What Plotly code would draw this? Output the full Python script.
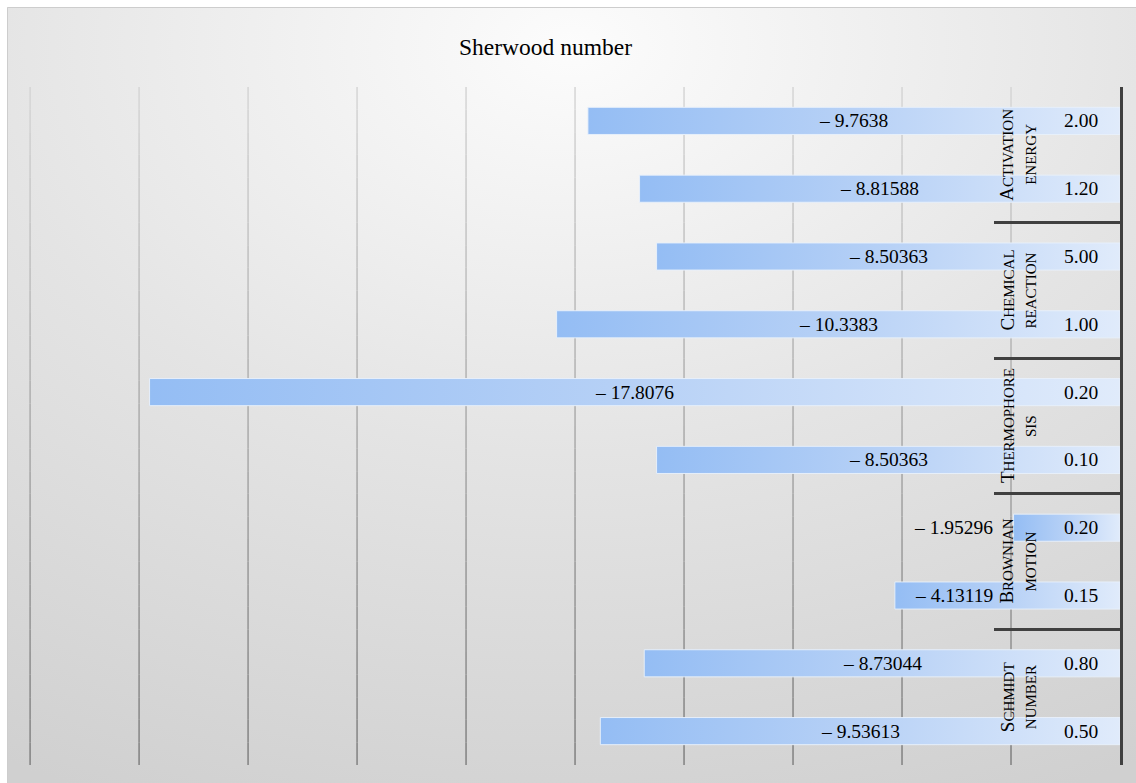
import base64
import plotly.graph_objects as go

# Sherwood number for each parameter level (top to bottom)
groups = [("Activation", "Energy"), ("Chemical", "Reaction"), ("Thermophore", "sis"),
          ("Brownian", "Motion"), ("Schmidt", "Number")]
levels = ["2.00", "1.20", "5.00", "1.00", "0.20", "0.10", "0.20", "0.15", "0.80", "0.50"]
values = [-9.7638, -8.81588, -8.50363, -10.3383, -17.8076, -8.50363,
          -1.95296, -4.13119, -8.73044, -9.53613]
title_text = "Sherwood number"
grid_ticks = list(range(-20, 0, 2))

# canvas / plot-area geometry in pixels
W, H = 1136, 783
ML, MR, MT, MB = 29, 16, 87, 18
PW, PH = W - ML - MR, H - MT - MB


def paper_x(px):
    return (px - ML) / PW


def paper_y(py):
    return (H - MB - py) / PH


SERIF = "Liberation Serif, Times New Roman, serif"
BAR_HALF = 0.2
X_MIN, X_MAX = -20.02, 0
LABEL_LIMIT = -2.3  # data labels stay left of the category-label column

fig = go.Figure()

# bars with a horizontal gradient fill
for i, v in enumerate(values):
    fig.add_trace(go.Scatter(
        x=[v, 0, 0, v, v],
        y=[i - BAR_HALF, i - BAR_HALF, i + BAR_HALF, i + BAR_HALF, i - BAR_HALF],
        mode="lines", fill="toself",
        fillgradient=dict(type="horizontal",
                          colorscale=[[0, "#94bdf4"], [0.5, "#b7d1f6"], [1, "#e0ebfb"]]),
        line=dict(color="rgba(232,240,251,0.95)", width=1),
        hoverinfo="skip", showlegend=False,
    ))

annotations = []

# value labels on the bars
for i, v in enumerate(values):
    txt = "\u2013 " + f"{abs(v):g}"
    centre = v / 2
    inside = centre <= LABEL_LIMIT - 0.75
    annotations.append(dict(x=centre if inside else LABEL_LIMIT, y=i, xref="x", yref="y",
                            text=txt, xanchor="center" if inside else "right",
                            yanchor="middle", showarrow=False,
                            font=dict(family=SERIF, size=19.5, color="#000000")))

# inner category labels (parameter values)
for i, lab in enumerate(levels):
    annotations.append(dict(x=paper_x(1081), y=i, xref="paper", yref="y", text=lab,
                            xanchor="center", yanchor="middle", showarrow=False,
                            font=dict(family=SERIF, size=19.5, color="#000000")))


def small_caps(word, big_first):
    if big_first:
        return f"<span style='font-size:19px'>{word[0].upper()}</span>{word[1:].upper()}"
    return word.upper()


# outer category labels (parameter names), rotated
for g, (line1, line2) in enumerate(groups):
    yc = 2 * g + 0.5
    annotations.append(dict(x=paper_x(1007), y=yc, xref="paper", yref="y",
                            text=small_caps(line1, True), textangle=-90,
                            xanchor="center", yanchor="middle", showarrow=False,
                            font=dict(family=SERIF, size=15, color="#000000")))
    annotations.append(dict(x=paper_x(1031), y=yc, xref="paper", yref="y",
                            text=small_caps(line2, False), textangle=-90,
                            xanchor="center", yanchor="middle", showarrow=False,
                            font=dict(family=SERIF, size=15, color="#000000")))

# chart title
annotations.append(dict(x=paper_x(545), y=paper_y(47), xref="paper", yref="paper",
                        text=title_text, xanchor="center", yanchor="middle",
                        showarrow=False, font=dict(family=SERIF, size=23.5, color="#000000")))

# soft grey radial background for the chart area
bg_svg = (
    "<svg xmlns='http://www.w3.org/2000/svg' width='1129' height='776' preserveAspectRatio='none'>"
    "<defs><radialGradient id='g' cx='0.5' cy='0.05' r='1.05'>"
    "<stop offset='0' stop-color='#fcfcfc'/><stop offset='0.5' stop-color='#e4e4e4'/>"
    "<stop offset='1' stop-color='#d0d0d0'/></radialGradient></defs>"
    "<rect width='100%' height='100%' fill='url(#g)'/></svg>"
)
bg_uri = "data:image/svg+xml;base64," + base64.b64encode(bg_svg.encode()).decode()

images = [dict(source=bg_uri, xref="paper", yref="paper",
               x=paper_x(7), y=paper_y(7),
               sizex=paper_x(W) - paper_x(7), sizey=paper_y(7) - paper_y(H),
               xanchor="left", yanchor="top", sizing="stretch", layer="below")]

shapes = [dict(type="rect", xref="paper", yref="paper",
               x0=paper_x(7.5), x1=paper_x(W + 5), y0=paper_y(H + 5), y1=paper_y(7.5),
               line=dict(color="#cdcdcd", width=1), fillcolor="rgba(0,0,0,0)", layer="below")]

# vertical gridlines that darken towards the bottom of the plot
N_SEG = 30
top_rgb, bot_rgb = (214, 214, 214), (128, 128, 128)
for gx in grid_ticks:
    for s in range(N_SEG):
        t = (s + 0.5) / N_SEG
        c = tuple(round(a + (b - a) * t) for a, b in zip(top_rgb, bot_rgb))
        shapes.append(dict(type="line", xref="x", yref="paper", x0=gx, x1=gx,
                           y0=1 - s / N_SEG, y1=1 - (s + 1) / N_SEG,
                           line=dict(color=f"rgb{c}", width=1.5), layer="below"))

fig.update_layout(
    width=W, height=H,
    margin=dict(l=ML, r=MR, t=MT, b=MB, pad=0),
    paper_bgcolor="white",
    plot_bgcolor="rgba(0,0,0,0)",
    showlegend=False,
    annotations=annotations,
    images=images,
    shapes=shapes,
    xaxis=dict(range=[X_MIN, X_MAX], showgrid=False,
               showticklabels=False, ticks="", zeroline=False, showline=False),
    yaxis=dict(range=[len(values) - 0.5, -0.5], side="right", showline=True,
               linecolor="#404040", linewidth=2.5, ticks="inside", ticklen=126,
               tickwidth=2.5, tickcolor="#404040",
               tickvals=[-0.5, 1.5, 3.5, 5.5, 7.5, 9.5],
               showticklabels=False, showgrid=False, zeroline=False),
)

fig.write_html("out.html")
